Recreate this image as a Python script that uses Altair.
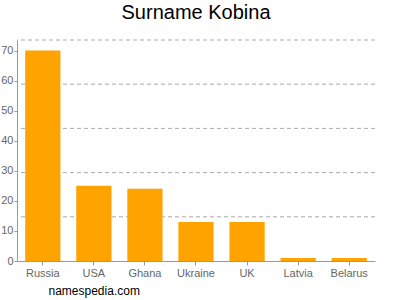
import altair as alt
import pandas as pd

countries = ["Russia", "USA", "Ghana", "Ukraine", "UK", "Latvia", "Belarus"]
counts = [70, 25, 24, 13, 13, 1, 1]
grid_values = [14.7, 29.4, 44.1, 58.8, 73.5]
y_ticks = [0, 10, 20, 30, 40, 50, 60, 70]

df = pd.DataFrame({"country": countries, "count": counts})
gdf = pd.DataFrame({"g": grid_values})

yscale = alt.Scale(domain=[0, 73.5], nice=False, zero=True)
yaxis = alt.Axis(values=y_ticks, title=None, grid=False, labelColor="#666666",
                 labelFontSize=11, labelFont="Liberation Sans", tickSize=3,
                 labelPadding=1, tickColor="#999999", domainColor="#999999")

bars = alt.Chart(df).mark_bar(color="#FFA300").encode(
    x=alt.X("country:N", sort=countries,
            scale=alt.Scale(paddingInner=0.31, paddingOuter=0.16),
            axis=alt.Axis(title="namespedia.com", titleAnchor="start", titleAlign="left",
                          titleX=31, titleY=33, titleBaseline="alphabetic",
                          titleFont="Liberation Sans", titleFontSize=12, titleFontWeight="normal",
                          titleColor="#000000",
                          labelAngle=0, labelColor="#666666", labelFontSize=11,
                          labelFont="Liberation Sans", labelPadding=2,
                          tickSize=4, tickColor="#999999", domainColor="#999999", grid=False)),
    y=alt.Y("count:Q", scale=yscale, axis=yaxis),
)

grid = alt.Chart(gdf).mark_rule(color="#aaaaaa", strokeDash=[4, 3], strokeWidth=1).encode(
    y=alt.Y("g:Q", scale=yscale, axis=yaxis)
)

chart = alt.layer(grid, bars).properties(
    width=358, height=221,
    autosize=alt.AutoSizeParams(type="none"),
    padding={"left": 17, "top": 40, "right": 25, "bottom": 39},
    title=alt.TitleParams("Surname Kobina", fontSize=20, font="Liberation Sans",
                          fontWeight="normal", color="#000000", offset=17, anchor="middle"),
).configure_view(stroke=None)

chart.save("out.html", embed_options={"renderer": "svg", "actions": False})
